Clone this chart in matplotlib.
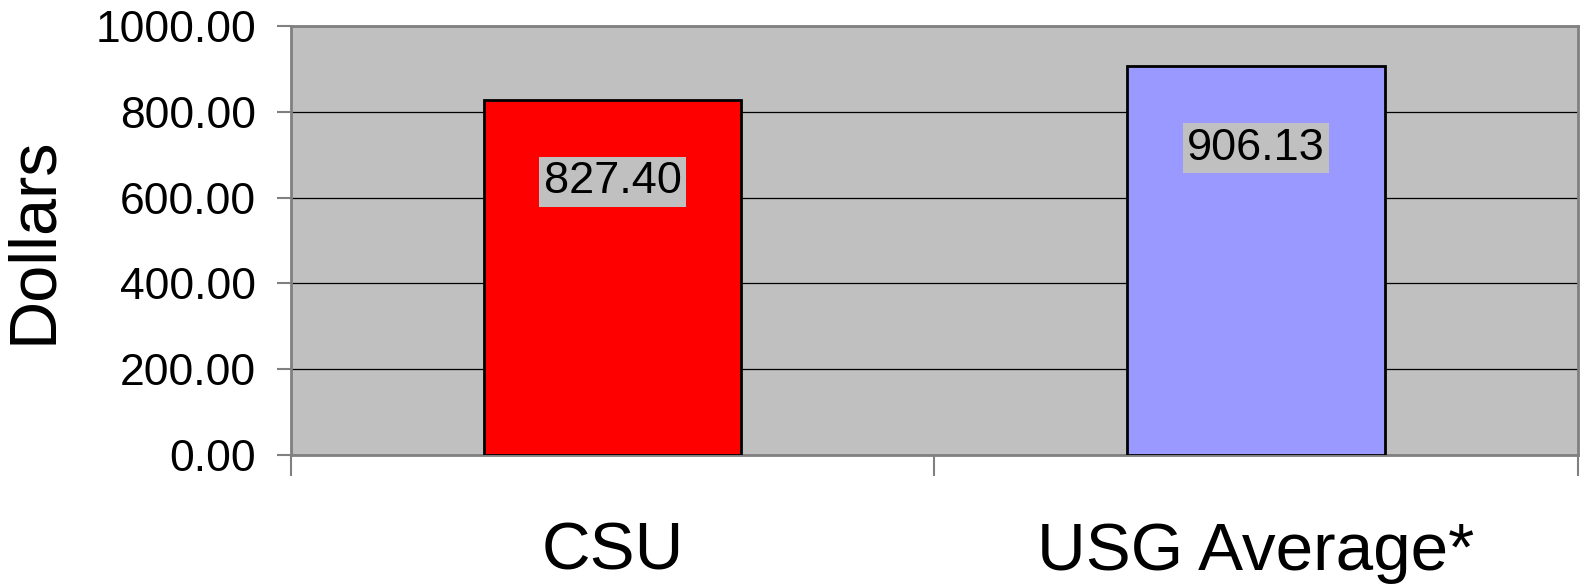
import matplotlib.pyplot as plt
import numpy as np

categories = ['CSU', 'USG Average*']
values = [827.40, 906.13]
colors = ['#FF0000', '#9999FF']
yticks = [0, 200, 400, 600, 800, 1000]

plt.rcParams['font.family'] = ['Liberation Sans', 'DejaVu Sans']

fig = plt.figure(figsize=(15.81, 5.88), dpi=100)
ax = fig.add_axes([0.184, 0.226, 0.814, 0.730])
ax.set_facecolor('#C0C0C0')

x = np.arange(len(categories))
ax.bar(x, values, width=0.4, color=colors, edgecolor='black', linewidth=2, zorder=3)

for xi, v in zip(x, values):
    ax.annotate(f'{v:.2f}', (xi, v), xytext=(0, -82), textcoords='offset pixels',
                ha='center', va='center', fontsize=32.5, zorder=4,
                bbox=dict(boxstyle='square,pad=0.1', fc='#C0C0C0', ec='none'))

ax.set_xlim(-0.5, len(categories) - 0.5)
ax.set_ylim(0, 1000)
ax.set_yticks(yticks)
ax.set_yticklabels([f'{t:.2f}' for t in yticks], fontsize=32)
ax.yaxis.grid(True, color='black', linewidth=0.9, zorder=1)

# category boundary ticks, labels at centres
ax.set_xticks(np.arange(len(categories) + 1) - 0.5)
ax.set_xticklabels([])
ax.set_xticks(x, minor=True)
ax.set_xticklabels(categories, minor=True, fontsize=48.5)
ax.tick_params(axis='x', which='major', length=15, width=1.5, color='#808080', direction='out')
ax.tick_params(axis='x', which='minor', length=0, pad=48)
ax.tick_params(axis='y', length=10, width=1.5, color='#808080', pad=15)

for s in ax.spines.values():
    s.set_color('#808080')
    s.set_linewidth(2)

ax.set_ylabel('Dollars', fontsize=48, labelpad=22)

fig.savefig('out.png', dpi=100)
